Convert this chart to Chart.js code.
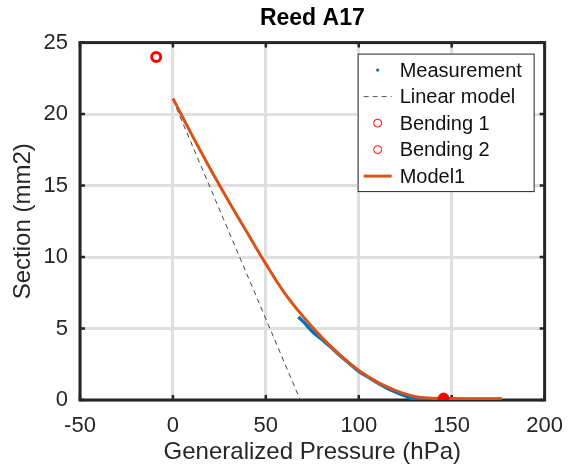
<!DOCTYPE html>
<html>
<head>
<meta charset="utf-8">
<title>Reed A17</title>
<script src="https://cdn.jsdelivr.net/npm/chart.js@4.4.1/dist/chart.umd.min.js"></script>
<style>
    body { margin: 0; background: #fff; }
    #wrap { width: 576px; height: 468px; }
</style>
</head>
<body>
<div id="wrap"><canvas id="reedChart" width="576" height="468"></canvas></div>
<script>
// values
const measureX = [67.5, 70, 75, 80, 85, 90, 95, 100, 105, 110, 115, 120, 125, 129, 132, 140, 150, 160, 170, 177];
const measureY = [5.8, 5.5, 4.8, 4.25, 3.7, 3.1, 2.55, 2.0, 1.6, 1.2, 0.85, 0.55, 0.28, 0.08, 0.02, 0.04, 0.06, 0.06, 0.06, 0.05];

const linearX = [0, 68.5];
const linearY = [21.0, 0];

const bending1X = [-9];
const bending1Y = [24];
const bending2X = [145.6];
const bending2Y = [0.1];

const modelX = [0, 10, 20, 30, 40, 50, 60, 70, 80, 90, 100, 110, 120, 130, 140, 150, 160, 177];
const modelY = [21.1, 18.6, 16.2, 13.9, 11.7, 9.52, 7.5, 5.85, 4.4, 3.12, 2.07, 1.25, 0.65, 0.25, 0.13, 0.1, 0.09, 0.08];

const xTicks = [-50, 0, 50, 100, 150, 200];
const yTicks = [0, 5, 10, 15, 20, 25];

const legendNames = ["Measurement", "Linear model", "Bending 1", "Bending 2", "Model1"];

const FONT = "'Liberation Sans', Arial, sans-serif";
const AXIS_COLOR = "#262626";

function toPoints(xs, ys) {
    return xs.map((x, i) => ({ x: x, y: ys[i] }));
}

// black frame round the plot with inward tick marks, like the original
const boxPlugin = {
    id: "boxPlugin",
    beforeDatasetsDraw(chart) {
        const { ctx, chartArea: a, scales } = chart;
        ctx.save();
        ctx.strokeStyle = AXIS_COLOR;
        ctx.lineWidth = 2.5;
        ctx.beginPath();
        xTicks.forEach((v) => {
            const px = scales.x.getPixelForValue(v);
            ctx.moveTo(px, a.bottom);
            ctx.lineTo(px, a.bottom - 5);
            ctx.moveTo(px, a.top);
            ctx.lineTo(px, a.top + 5);
        });
        yTicks.forEach((v) => {
            const py = scales.y.getPixelForValue(v);
            ctx.moveTo(a.left, py);
            ctx.lineTo(a.left + 5, py);
            ctx.moveTo(a.right, py);
            ctx.lineTo(a.right - 5, py);
        });
        ctx.stroke();
        ctx.lineWidth = 3;
        ctx.strokeRect(a.left, a.top, a.right - a.left, a.bottom - a.top);
        ctx.restore();
    },
};

// legend box drawn inside the plot, top right
const legendPlugin = {
    id: "insideLegend",
    afterDraw(chart) {
        const { ctx, chartArea: a } = chart;
        const boxRight = a.right - 11;
        const boxLeft = boxRight - 176;
        const boxTop = a.top + 11;
        const rowH = 26.5;
        const boxH = rowH * legendNames.length + 5;
        ctx.save();
        ctx.fillStyle = "#fff";
        ctx.fillRect(boxLeft, boxTop, boxRight - boxLeft, boxH);
        ctx.strokeStyle = "#262626";
        ctx.lineWidth = 1;
        ctx.strokeRect(boxLeft + 0.5, boxTop + 0.5, boxRight - boxLeft, boxH);

        const symX = boxLeft + 20;
        ctx.font = "20px " + FONT;
        ctx.textBaseline = "middle";
        legendNames.forEach((name, i) => {
            const y = boxTop + 16.5 + i * rowH;
            ctx.save();
            if (i === 0) {
                ctx.fillStyle = "#0072BD";
                ctx.beginPath();
                ctx.arc(symX, y, 1.6, 0, Math.PI * 2);
                ctx.fill();
            } else if (i === 1) {
                ctx.strokeStyle = "#555";
                ctx.lineWidth = 1;
                ctx.setLineDash([5, 4]);
                ctx.beginPath();
                ctx.moveTo(symX - 14, y);
                ctx.lineTo(symX + 14, y);
                ctx.stroke();
            } else if (i === 2 || i === 3) {
                ctx.strokeStyle = "#FF0000";
                ctx.lineWidth = 1;
                ctx.beginPath();
                ctx.arc(symX, y, 4, 0, Math.PI * 2);
                ctx.stroke();
            } else {
                ctx.strokeStyle = "#D95319";
                ctx.lineWidth = 3;
                ctx.beginPath();
                ctx.moveTo(symX - 14, y);
                ctx.lineTo(symX + 14, y);
                ctx.stroke();
            }
            ctx.restore();
            ctx.fillStyle = "#111";
            ctx.fillText(name, symX + 22, y + 1);
        });
        ctx.restore();
    },
};

const ctx = document.getElementById("reedChart");
new Chart(ctx, {
    type: "scatter",
    data: {
        datasets: [
            {
                label: legendNames[0],
                data: toPoints(measureX, measureY),
                showLine: true,
                borderColor: "#0072BD",
                backgroundColor: "#0072BD",
                borderWidth: 3.5,
                pointRadius: 0,
                cubicInterpolationMode: "monotone",
                order: 2,
            },
            {
                label: legendNames[1],
                data: toPoints(linearX, linearY),
                showLine: true,
                borderColor: "#444",
                borderWidth: 1,
                borderDash: [5, 4],
                pointRadius: 0,
                order: 3,
            },
            {
                label: legendNames[2],
                data: toPoints(bending1X, bending1Y),
                borderColor: "#FF0000",
                backgroundColor: "#fff",
                borderWidth: 3,
                pointRadius: 4.5,
                order: 0,
            },
            {
                label: legendNames[3],
                data: toPoints(bending2X, bending2Y),
                borderColor: "#FF0000",
                backgroundColor: "#FF0000",
                borderWidth: 1,
                pointRadius: 5.5,
                order: 0,
            },
            {
                label: legendNames[4],
                data: toPoints(modelX, modelY),
                showLine: true,
                borderColor: "#D95319",
                borderWidth: 3,
                pointRadius: 0,
                tension: 0.4,
                order: 1,
            },
        ],
    },
    options: {
        responsive: false,
        animation: false,
        layout: { padding: { left: 0, right: 21, top: 0, bottom: 0 } },
        scales: {
            x: {
                type: "linear",
                min: -50,
                max: 200,
                afterBuildTicks: (scale) => {
                    scale.ticks = xTicks.map((v) => ({ value: v }));
                },
                afterFit: (scale) => {
                    scale.height = 68;
                },
                grid: { color: "#dfdfdf", lineWidth: 3, drawTicks: false },
                border: { display: false },
                ticks: {
                    color: AXIS_COLOR,
                    padding: 13,
                    font: { family: FONT, size: 22 },
                    maxRotation: 0,
                },
                title: {
                    display: true,
                    text: "Generalized Pressure (hPa)",
                    color: AXIS_COLOR,
                    font: { family: FONT, size: 24 },
                    padding: { top: 0, bottom: 1 },
                },
            },
            y: {
                type: "linear",
                min: 0,
                max: 25,
                afterBuildTicks: (scale) => {
                    scale.ticks = yTicks.map((v) => ({ value: v }));
                },
                afterFit: (scale) => {
                    scale.width = 80;
                },
                grid: { color: "#dfdfdf", lineWidth: 3, drawTicks: false },
                border: { display: false },
                ticks: {
                    color: AXIS_COLOR,
                    padding: 12,
                    font: { family: FONT, size: 22 },
                },
                title: {
                    display: true,
                    text: "Section (mm2)",
                    color: AXIS_COLOR,
                    font: { family: FONT, size: 24 },
                    padding: { top: 9, bottom: 0 },
                },
            },
        },
        plugins: {
            legend: { display: false },
            tooltip: { enabled: false },
            title: {
                display: true,
                fullSize: false,
                text: "Reed A17",
                color: "#000",
                font: { family: FONT, size: 23, weight: "bold" },
                padding: { top: 5, bottom: 10 },
            },
        },
    },
    plugins: [boxPlugin, legendPlugin],
});
</script>
</body>
</html>
